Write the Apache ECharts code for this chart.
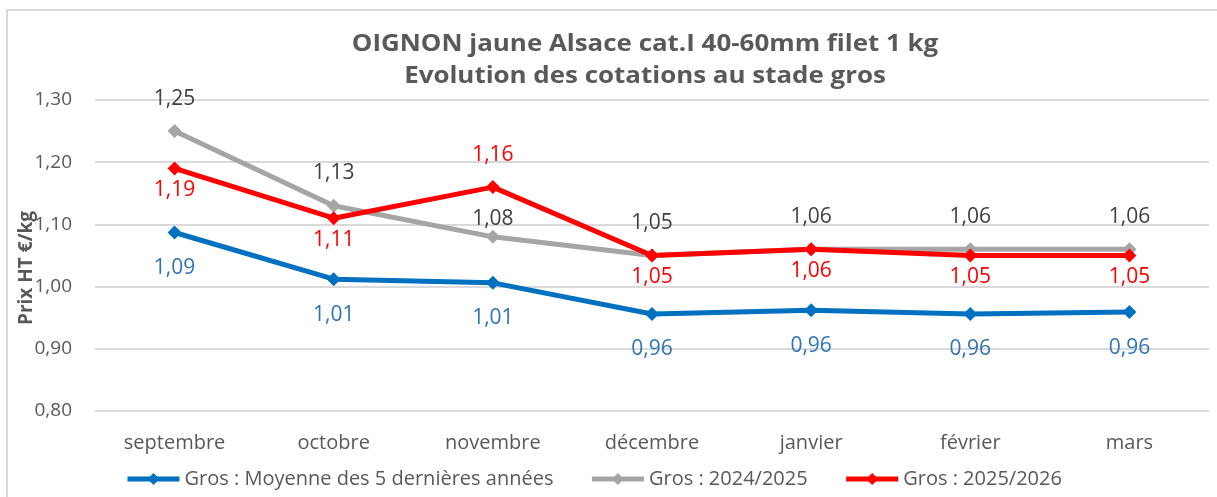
<!DOCTYPE html>
<html>
<head>
<meta charset="utf-8">
<script src="https://cdn.jsdelivr.net/npm/echarts@6/dist/echarts.min.js"></script>
<style>
html,body{margin:0;padding:0;background:#fff;}
#chart{width:1217px;height:497px;}
</style>
</head>
<body>
<div id="chart"></div>
<script>
// données
var mois = ['septembre', 'octobre', 'novembre', 'décembre', 'janvier', 'février', 'mars'];
var moyenne5ans = [1.087, 1.012, 1.006, 0.956, 0.962, 0.956, 0.959];
var gros2425 = [1.25, 1.13, 1.08, 1.05, 1.06, 1.06, 1.06];
var gros2526 = [1.19, 1.11, 1.16, 1.05, 1.06, 1.05, 1.05];
// position / écart des étiquettes
var posRouge = ['bottom', 'bottom', 'top', 'bottom', 'bottom', 'bottom', 'bottom'];
var ecartRouge = [4, 4, 15, 4, 4, 4, 4];
var ecartGris = [15, 15, 0, 15, 15, 15, 15];

var police = '"Open Sans", "Noto Sans", sans-serif';

function fmt(v) {
	return v.toFixed(2).replace('.', ',');
}

function serie(nom, valeurs, couleur, couleurTxt, pos, ecart) {
	return {
		name: nom,
		type: 'line',
		data: valeurs.map(function (v, i) {
			return {
				value: v,
				label: {
					position: Array.isArray(pos) ? pos[i] : pos,
					distance: Array.isArray(ecart) ? ecart[i] : ecart
				}
			};
		}),
		symbol: 'diamond',
		symbolSize: 14,
		lineStyle: { width: 5, color: couleur },
		itemStyle: { color: couleur },
		label: {
			show: true,
			color: couleurTxt,
			fontSize: 21,
			fontFamily: police,
			formatter: function (p) { return fmt(p.value); }
		},
		emphasis: { disabled: true },
		animation: false
	};
}

var myChart = echarts.init(document.getElementById('chart'));
myChart.setOption({
	backgroundColor: '#fff',
	legend: {
		bottom: 3,
		left: 120,
		itemGap: 36,
		itemWidth: 52,
		itemHeight: 15,
		lineStyle: { width: 5 },
		textStyle: { fontSize: 20, color: '#595959', fontFamily: police },
		data: ['Gros : Moyenne des 5 dernières années', 'Gros : 2024/2025', 'Gros : 2025/2026']
	},
	grid: { left: 95, right: 8, top: 100, bottom: 86 },
	xAxis: {
		type: 'category',
		data: mois,
		boundaryGap: true,
		axisLine: { show: false },
		axisTick: { show: false },
		axisLabel: { fontSize: 20, color: '#595959', margin: 22, fontFamily: police }
	},
	yAxis: {
		type: 'value',
		min: 0.8,
		max: 1.3,
		interval: 0.1,
		axisLabel: {
			fontSize: 19,
			color: '#595959',
			margin: 23,
			fontFamily: police,
			formatter: function (v) { return fmt(v); }
		},
		splitLine: { lineStyle: { color: '#d9d9d9', width: 2 } }
	},
	graphic: [{
		type: 'rect',
		shape: { x: 7, y: 10, width: 1300, height: 600 },
		style: { fill: 'none', stroke: '#d9d9d9', lineWidth: 2 },
		silent: true,
		z: -1
	}, {
		// titre sur deux lignes
		type: 'text',
		x: 645,
		y: 60,
		scaleX: 1.08,
		style: {
			text: 'OIGNON jaune Alsace cat.I 40-60mm filet 1 kg\nEvolution des cotations au stade gros',
			fill: '#595959',
			font: 'bold 24px ' + police,
			lineHeight: 32,
			align: 'center',
			verticalAlign: 'middle'
		},
		silent: true
	}, {
		// titre de l'axe vertical
		type: 'text',
		x: 27,
		y: 268,
		rotation: Math.PI / 2,
		style: {
			text: 'Prix HT €/kg',
			fill: '#595959',
			font: 'bold 19px ' + police,
			align: 'center',
			verticalAlign: 'middle'
		},
		silent: true,
		z: 10
	}],
	series: [
		serie('Gros : Moyenne des 5 dernières années', moyenne5ans, '#0070c0', '#2e75b6', 'bottom', 18),
		serie('Gros : 2024/2025', gros2425, '#a5a5a5', '#404040', 'top', ecartGris),
		serie('Gros : 2025/2026', gros2526, '#ff0000', '#ff0000', posRouge, ecartRouge)
	]
});
</script>
</body>
</html>
